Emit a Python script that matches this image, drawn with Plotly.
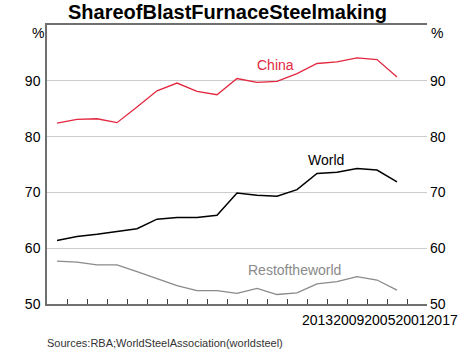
import plotly.graph_objects as go

years = list(range(1999, 2017))
china = [82.4, 83.1, 83.2, 82.5, 85.3, 88.2, 89.6, 88.1, 87.5, 90.4,
         89.7, 89.9, 91.3, 93.1, 93.4, 94.1, 93.8, 90.7]
world = [61.4, 62.1, 62.5, 63.0, 63.5, 65.2, 65.5, 65.5, 65.9, 69.9,
         69.5, 69.3, 70.5, 73.4, 73.6, 74.3, 74.0, 71.9]
rest = [57.7, 57.5, 57.0, 57.0, 55.8, 54.6, 53.3, 52.4, 52.4, 51.9,
        52.8, 51.7, 52.0, 53.6, 54.0, 54.9, 54.3, 52.5]
y_ticks = [50, 60, 70, 80, 90]
x_ticks = [y + 0.5 for y in range(1999, 2017)]
x_label_text = "20132009200520012017"

FONT = "Liberation Sans, Arial, sans-serif"
RED = "#e2273f"
GREY = "#8a8a8a"

fig = go.Figure()
fig.add_trace(go.Scatter(x=years, y=china, mode="lines", line=dict(color=RED, width=1.3), showlegend=False))
fig.add_trace(go.Scatter(x=years, y=world, mode="lines", line=dict(color="black", width=1.5), showlegend=False))
fig.add_trace(go.Scatter(x=years, y=rest, mode="lines", line=dict(color=GREY, width=1.3), showlegend=False))
fig.add_trace(go.Scatter(x=[years[0]], y=[None], yaxis="y2", showlegend=False, hoverinfo="skip"))

axis_line = "#707070"
fig.update_layout(
    width=474, height=350,
    margin=dict(l=47, r=47, t=25, b=46),
    paper_bgcolor="white", plot_bgcolor="white",
    font=dict(family=FONT, size=14, color="black"),
    xaxis=dict(range=[1998.5, 2017.5], tickvals=x_ticks, ticks="inside", ticklen=5,
               tickcolor="#404040", showticklabels=False, showgrid=False,
               showline=True, linecolor=axis_line, linewidth=1.5, mirror=True, zeroline=False),
    yaxis=dict(range=[50, 100], tickvals=y_ticks, showgrid=True, gridcolor="#cccccc", gridwidth=1,
               showline=True, linecolor=axis_line, linewidth=1.5, ticks="", ticklabelstandoff=2,
               zeroline=False, tickfont=dict(size=14)),
    yaxis2=dict(range=[50, 100], tickvals=y_ticks, overlaying="y", side="right", showgrid=False,
                showline=False, ticks="", zeroline=False, tickfont=dict(size=14), ticklabelstandoff=2),
)

plot_top, plot_bot = 25, 304
plot_l, plot_r = 47, 427
def px(x):
    return (x - plot_l) / (plot_r - plot_l)
def py(y):
    return (plot_bot - y) / (plot_bot - plot_top)

annos = [
    ("<b>ShareofBlastFurnaceSteelmaking</b>", 227, 12, 20),
    ("%", 38, 33, 14),
    ("%", 437, 33, 14),
    (x_label_text, 380, 320, 14),
]
for text, x, y, size in annos:
    fig.add_annotation(text=text, xref="paper", yref="paper", x=px(x), y=py(y),
                       showarrow=False, xanchor="center", yanchor="middle",
                       font=dict(family=FONT, color="black", size=size))

fig.add_annotation(text="Sources:RBA;WorldSteelAssociation(worldsteel)", xref="paper", yref="paper",
                   x=px(45), y=py(343), xanchor="left", yanchor="middle", showarrow=False,
                   font=dict(family=FONT, size=11, color="#333333"))

fig.add_annotation(text="China", x=2009.9, y=92.8, showarrow=False, font=dict(family=FONT, size=14, color=RED))
fig.add_annotation(text="World", x=2012.45, y=75.8, showarrow=False, font=dict(family=FONT, size=14, color="black"))
fig.add_annotation(text="Restoftheworld", x=2010.85, y=56.1, showarrow=False, font=dict(family=FONT, size=14, color=GREY))

fig.write_html("out.html")
